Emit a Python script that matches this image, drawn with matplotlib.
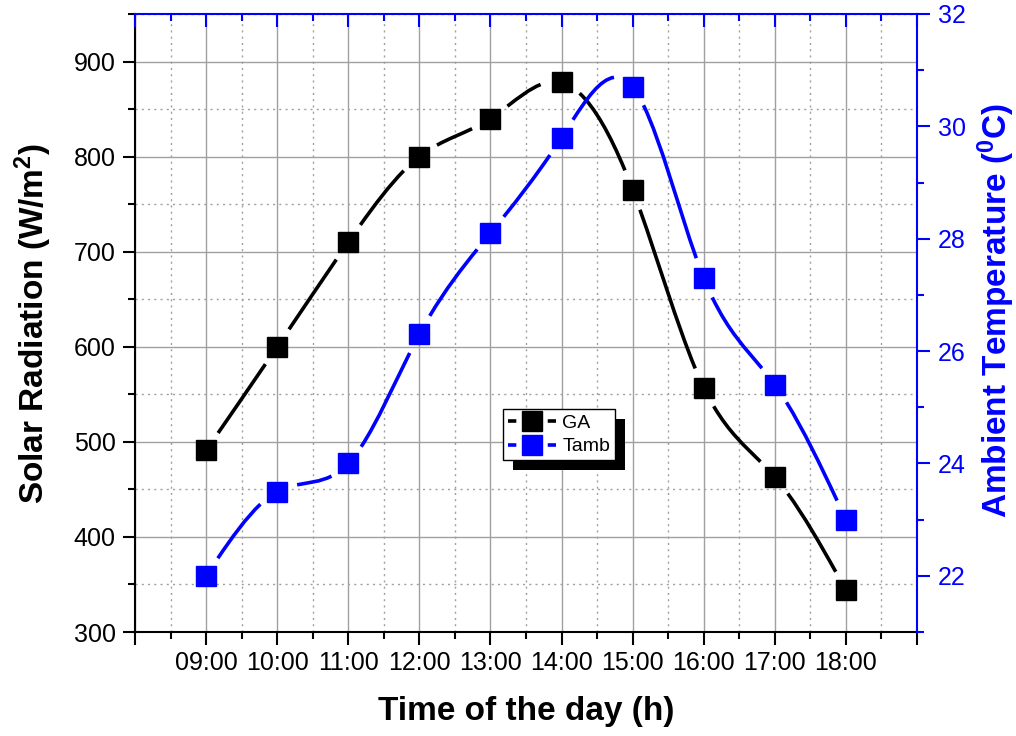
import matplotlib
matplotlib.use("Agg")
import numpy as np
import matplotlib.pyplot as plt
from matplotlib.lines import Line2D
from matplotlib.path import Path
from matplotlib.patches import PathPatch, Rectangle
from matplotlib.ticker import FixedLocator
from matplotlib.transforms import IdentityTransform

# ── Data ──────────────────────────────────────────────────────────────────────
hours = [9, 10, 11, 12, 13, 14, 15, 16, 17, 18]
hour_labels = ["09:00", "10:00", "11:00", "12:00", "13:00",
               "14:00", "15:00", "16:00", "17:00", "18:00"]
ga = [491, 600, 710, 800, 840, 878, 765, 557, 463, 344]
tamb = [22.0, 23.5, 24.0, 26.3, 28.1, 29.8, 30.7, 27.3, 25.4, 23.0]

# ── Style ─────────────────────────────────────────────────────────────────────
plt.rcParams["font.family"] = ["Liberation Sans", "DejaVu Sans"]
plt.rcParams["mathtext.fontset"] = "custom"
plt.rcParams["mathtext.rm"] = "Liberation Sans:bold"
plt.rcParams["mathtext.it"] = "Liberation Sans:bold"
plt.rcParams["mathtext.bf"] = "Liberation Sans:bold"
plt.rcParams["mathtext.default"] = "rm"
plt.rcParams["lines.scale_dashes"] = False

BLUE = "#0000ff"
GRID = "#a0a0a0"
TICK_FS = 18
LABEL_FS = 24
LW = 2.6
MS = 15
GAP = 21  # px gap between a marker centre and the connecting curve


def natural_slopes(x, y):
    """Knot slopes of the natural cubic spline through (x, y)."""
    x = np.asarray(x, float)
    y = np.asarray(y, float)
    n = len(x)
    h = np.diff(x)
    A = np.zeros((n, n))
    r = np.zeros(n)
    A[0, 0] = A[-1, -1] = 1.0
    for i in range(1, n - 1):
        A[i, i - 1] = h[i - 1]
        A[i, i] = 2 * (h[i - 1] + h[i])
        A[i, i + 1] = h[i]
        r[i] = 6 * ((y[i + 1] - y[i]) / h[i] - (y[i] - y[i - 1]) / h[i - 1])
    M = np.linalg.solve(A, r)
    m = np.zeros(n)
    for i in range(n - 1):
        m[i] = (y[i + 1] - y[i]) / h[i] - h[i] * (2 * M[i] + M[i + 1]) / 6
    m[-1] = (y[-1] - y[-2]) / h[-1] + h[-1] * (M[-2] + 2 * M[-1]) / 6
    return m


def bez(P, t):
    t = np.asarray(t)[:, None]
    return ((1 - t) ** 3 * P[0] + 3 * t * (1 - t) ** 2 * P[1]
            + 3 * t ** 2 * (1 - t) * P[2] + t ** 3 * P[3])


def split(P, t):
    a = P[:-1] * (1 - t) + P[1:] * t
    b = a[:-1] * (1 - t) + a[1:] * t
    c = b[:-1] * (1 - t) + b[1:] * t
    left = np.array([P[0], a[0], b[0], c[0]])
    right = np.array([c[0], b[1], a[2], P[3]])
    return left, right


def draw_spline(axis, xs, ys, color):
    """Spline through the points, drawn as Bezier pieces with gaps at markers."""
    m = natural_slopes(xs, ys)
    trans = axis.transData
    inv = trans.inverted()
    verts, codes = [], []
    ts = np.linspace(0, 1, 801)
    for i in range(len(xs) - 1):
        h = xs[i + 1] - xs[i]
        ctrl = np.array([[xs[i], ys[i]],
                         [xs[i] + h / 3, ys[i] + m[i] * h / 3],
                         [xs[i + 1] - h / 3, ys[i + 1] - m[i + 1] * h / 3],
                         [xs[i + 1], ys[i + 1]]])
        disp = trans.transform(ctrl)
        pts = bez(disp, ts)
        d0 = np.hypot(*(pts - disp[0]).T)
        d1 = np.hypot(*(pts - disp[3]).T)
        t0 = ts[np.argmax(d0 >= GAP)]
        t1 = ts[len(ts) - 1 - np.argmax(d1[::-1] >= GAP)]
        if t1 <= t0:
            continue
        _, right = split(disp, t0)
        piece, _ = split(right, (t1 - t0) / (1 - t0))
        verts += list(inv.transform(piece))
        codes += [Path.MOVETO, Path.CURVE4, Path.CURVE4, Path.CURVE4]
    axis.add_patch(PathPatch(Path(verts, codes), facecolor="none",
                             edgecolor=color, lw=LW, capstyle="butt", zorder=2))


# ── Figure ────────────────────────────────────────────────────────────────────
fig = plt.figure(figsize=(10.16, 7.36), dpi=100)
ax = fig.add_axes([0.1329, 0.1413, 0.7697, 0.8397])
ax2 = ax.twinx()

major_x = list(range(8, 20))
minor_x = [h + 0.5 for h in range(8, 19)]

ax.set_xlim(8, 19)
ax.set_ylim(300, 950)
ax2.set_ylim(21, 32)

ax.set_xticks(major_x)
ax.set_xticklabels([""] + hour_labels + [""])
ax.xaxis.set_minor_locator(FixedLocator(minor_x))
ax.set_yticks(range(300, 901, 100))
ax.yaxis.set_minor_locator(FixedLocator(range(350, 951, 100)))
ax2.set_yticks(range(22, 33, 2))
ax2.yaxis.set_minor_locator(FixedLocator(range(21, 32, 2)))

ax.set_axisbelow(True)
ax.grid(which="major", color=GRID, lw=1.0, ls="-")
ax.grid(which="minor", color=GRID, lw=1.0, ls=(0, (1.5, 3)))

ax.tick_params(which="major", direction="out", length=9, width=1.5,
               labelsize=TICK_FS, top=False, right=False)
ax.tick_params(which="minor", direction="out", length=5, width=1.5,
               top=False, right=False)
ax.tick_params(axis="x", pad=5)
ax.tick_params(axis="y", pad=5)
ax2.tick_params(axis="y", which="major", direction="out", length=9, width=1.5,
                labelsize=TICK_FS, colors=BLUE, pad=6)
ax2.tick_params(axis="y", which="minor", direction="out", length=5, width=1.5,
                colors=BLUE)

# blue top axis with inward ticks, drawn by the twin's x axis
ax2.xaxis.set_visible(True)
ax2.tick_params(axis="x", which="both", direction="in", width=1.5, colors=BLUE,
                top=True, bottom=False, labeltop=False, labelbottom=False)
ax2.tick_params(axis="x", which="major", length=9)
ax2.tick_params(axis="x", which="minor", length=5)

for s in ("left", "bottom"):
    ax.spines[s].set_linewidth(1.5)
ax.spines["top"].set_visible(False)
ax.spines["right"].set_visible(False)
for s in ("left", "bottom"):
    ax2.spines[s].set_visible(False)
for s in ("right", "top"):
    ax2.spines[s].set_color(BLUE)
    ax2.spines[s].set_linewidth(1.5)

ax.set_xlabel("Time of the day (h)", fontsize=LABEL_FS, fontweight="bold",
              labelpad=15)
ax.set_ylabel("Solar Radiation (W/m$^2$)", fontsize=LABEL_FS,
              fontweight="bold", labelpad=14)
ax2.set_ylabel("Ambient Temperature ($^0$C)", fontsize=LABEL_FS,
               fontweight="bold", color=BLUE, labelpad=7)
ax2.yaxis.label.set_y(0.52)

# ── Series ────────────────────────────────────────────────────────────────────
draw_spline(ax, hours, ga, "black")
ax.plot(hours, ga, ls="none", marker="s", ms=MS, mew=1, color="black", zorder=3)
draw_spline(ax2, hours, tamb, BLUE)
ax2.plot(hours, tamb, ls="none", marker="s", ms=MS, mew=1, color=BLUE, zorder=3)

# ── Legend with a solid drop shadow ───────────────────────────────────────────
handles = [
    Line2D([], [], color="black", lw=LW, marker="s", ms=MS, dashes=(6, 22.6)),
    Line2D([], [], color=BLUE, lw=LW, marker="s", ms=MS, dashes=(6, 22.6)),
]
leg = ax2.legend(handles, ["GA", "Tamb"], loc="center",
                 bbox_to_anchor=(0.542, 0.319), fontsize=14, frameon=True,
                 fancybox=False, edgecolor="black", framealpha=1,
                 handlelength=2.47, handletextpad=0.35, borderpad=0.25,
                 labelspacing=0.3, borderaxespad=0)
leg.get_frame().set_linewidth(1.0)
leg.set_zorder(5)

fig.canvas.draw()
bb = leg.get_window_extent()
ax2.add_artist(Rectangle((bb.x0 + 10, bb.y0 - 10), bb.width, bb.height,
                         facecolor="black", edgecolor="none",
                         transform=IdentityTransform(), zorder=4.5))

fig.savefig("out.png", dpi=100)
